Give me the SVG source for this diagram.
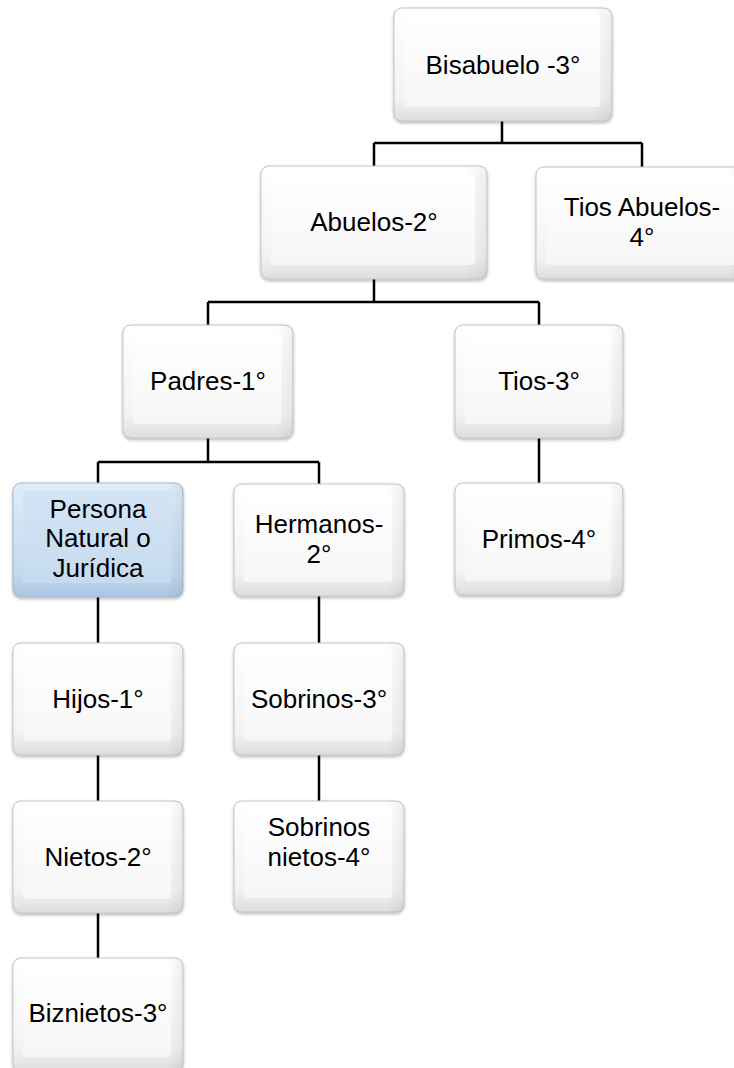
<svg xmlns="http://www.w3.org/2000/svg" width="734" height="1068" viewBox="0 0 734 1068">
<defs>
<linearGradient id="gEdge" x1="0" y1="0" x2="0" y2="1">
<stop offset="0" stop-color="#ffffff"/><stop offset="0.8" stop-color="#f3f3f3"/><stop offset="1" stop-color="#dddddd"/>
</linearGradient>
<linearGradient id="gSide" x1="0" y1="0" x2="1" y2="0">
<stop offset="0" stop-color="#000" stop-opacity="0"/><stop offset="0.9" stop-color="#000" stop-opacity="0"/><stop offset="1" stop-color="#000" stop-opacity="0.06"/>
</linearGradient>
<linearGradient id="gFace" x1="0" y1="0" x2="0" y2="1">
<stop offset="0" stop-color="#ffffff"/><stop offset="1" stop-color="#f6f6f6"/>
</linearGradient>
<linearGradient id="gEdgeB" x1="0" y1="0" x2="0" y2="1">
<stop offset="0" stop-color="#e0edf8"/><stop offset="0.8" stop-color="#c3d8ee"/><stop offset="1" stop-color="#abc5e0"/>
</linearGradient>
<linearGradient id="gFaceB" x1="0" y1="0" x2="0" y2="1">
<stop offset="0" stop-color="#d3e4f5"/><stop offset="1" stop-color="#c6dbf0"/>
</linearGradient>
<filter id="sh" x="-10%" y="-10%" width="120%" height="130%">
<feDropShadow dx="0" dy="1.5" stdDeviation="1.5" flood-color="#000" flood-opacity="0.3"/>
</filter>
</defs>
<style>
.outer{fill:url(#gEdge);stroke:#c4c4c4;stroke-width:1;filter:url(#sh)}
.side{fill:url(#gSide)}
.face{fill:url(#gFace)}
.blue .outer{fill:url(#gEdgeB);stroke:#9fb8d3}
.blue .face{fill:url(#gFaceB)}
text{font-family:"Liberation Sans",Arial,sans-serif;font-size:26px;fill:#000;text-anchor:middle}
.conn path{fill:none;stroke:#000;stroke-width:2.5}
</style>
<g class="conn" id="connectors">
<path d="M502 121V143M374 143H642M374 143V166M642 143V167"/>
<path d="M374 279V302M208 302H539M208 302V325M539 302V325"/>
<path d="M208 438V462M98 462H319M98 462V483M319 462V484"/>
<path d="M539 438V483"/>
<path d="M98 597V643M98 755V801M98 913V958"/>
<path d="M319 596V643M319 755V801"/>
</g>
<g id="n-bisabuelo" class="node">
<rect class="outer" x="394" y="8" width="218" height="113" rx="8"/>
<rect class="side" x="394" y="8" width="218" height="113" rx="8"/>
<rect class="face" x="404" y="16" width="196" height="91" rx="3"/>
<text x="503" y="74">Bisabuelo -3°</text>
</g>
<g id="n-abuelos" class="node">
<rect class="outer" x="261" y="166" width="226" height="113" rx="8"/>
<rect class="side" x="261" y="166" width="226" height="113" rx="8"/>
<rect class="face" x="271" y="174" width="204" height="91" rx="3"/>
<text x="374" y="231">Abuelos-2°</text>
</g>
<g id="n-tiosabuelos" class="node">
<rect class="outer" x="536" y="167" width="212" height="112" rx="8"/>
<rect class="side" x="536" y="167" width="212" height="112" rx="8"/>
<rect class="face" x="546" y="175" width="190" height="90" rx="3"/>
<text x="642" y="216">Tios Abuelos-<tspan x="642" dy="29.5">4°</tspan></text>
</g>
<g id="n-padres" class="node">
<rect class="outer" x="123" y="325" width="170" height="113" rx="8"/>
<rect class="side" x="123" y="325" width="170" height="113" rx="8"/>
<rect class="face" x="133" y="333" width="148" height="91" rx="3"/>
<text x="208" y="390">Padres-1°</text>
</g>
<g id="n-tios" class="node">
<rect class="outer" x="455" y="325" width="168" height="113" rx="8"/>
<rect class="side" x="455" y="325" width="168" height="113" rx="8"/>
<rect class="face" x="465" y="333" width="146" height="91" rx="3"/>
<text x="539" y="390">Tios-3°</text>
</g>
<g id="n-persona" class="node blue">
<rect class="outer" x="13" y="483" width="170" height="114" rx="8"/>
<rect class="side" x="13" y="483" width="170" height="114" rx="8"/>
<rect class="face" x="23" y="491" width="148" height="92" rx="3"/>
<text x="98" y="517.5">Persona<tspan x="98" dy="29.5">Natural o</tspan><tspan x="98" dy="29.5">Jurídica</tspan></text>
</g>
<g id="n-hermanos" class="node">
<rect class="outer" x="234" y="484" width="170" height="112" rx="8"/>
<rect class="side" x="234" y="484" width="170" height="112" rx="8"/>
<rect class="face" x="244" y="492" width="148" height="90" rx="3"/>
<text x="319" y="533">Hermanos-<tspan x="319" dy="29.5">2°</tspan></text>
</g>
<g id="n-primos" class="node">
<rect class="outer" x="455" y="483" width="168" height="112" rx="8"/>
<rect class="side" x="455" y="483" width="168" height="112" rx="8"/>
<rect class="face" x="465" y="491" width="146" height="90" rx="3"/>
<text x="539" y="548">Primos-4°</text>
</g>
<g id="n-hijos" class="node">
<rect class="outer" x="13" y="643" width="170" height="112" rx="8"/>
<rect class="side" x="13" y="643" width="170" height="112" rx="8"/>
<rect class="face" x="23" y="651" width="148" height="90" rx="3"/>
<text x="98" y="708">Hijos-1°</text>
</g>
<g id="n-sobrinos" class="node">
<rect class="outer" x="234" y="643" width="170" height="112" rx="8"/>
<rect class="side" x="234" y="643" width="170" height="112" rx="8"/>
<rect class="face" x="244" y="651" width="148" height="90" rx="3"/>
<text x="319" y="708">Sobrinos-3°</text>
</g>
<g id="n-nietos" class="node">
<rect class="outer" x="13" y="801" width="170" height="112" rx="8"/>
<rect class="side" x="13" y="801" width="170" height="112" rx="8"/>
<rect class="face" x="23" y="809" width="148" height="90" rx="3"/>
<text x="98" y="866">Nietos-2°</text>
</g>
<g id="n-sobrinosnietos" class="node">
<rect class="outer" x="234" y="801" width="170" height="111" rx="8"/>
<rect class="side" x="234" y="801" width="170" height="111" rx="8"/>
<rect class="face" x="244" y="809" width="148" height="89" rx="3"/>
<text x="319" y="836">Sobrinos<tspan x="319" dy="29.5">nietos-4°</tspan></text>
</g>
<g id="n-biznietos" class="node">
<rect class="outer" x="13" y="958" width="170" height="113" rx="8"/>
<rect class="side" x="13" y="958" width="170" height="113" rx="8"/>
<rect class="face" x="23" y="966" width="148" height="91" rx="3"/>
<text x="98" y="1022">Biznietos-3°</text>
</g>
</svg>
